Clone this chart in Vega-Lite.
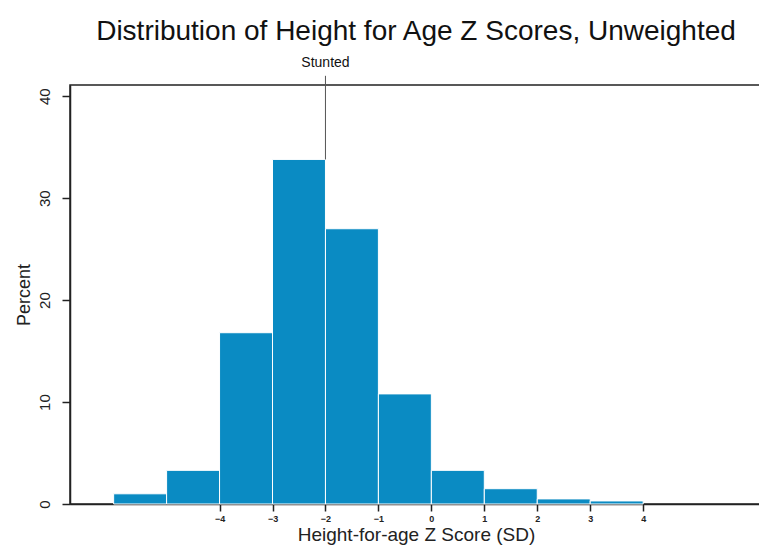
{
  "$schema": "https://vega.github.io/schema/vega-lite/v6.json",
  "width": 692,
  "height": 419,
  "autosize": {"type": "none"},
  "padding": {"left": 70, "top": 85, "right": 0, "bottom": 44},
  "background": "white",
  "config": {
    "font": "Liberation Sans",
    "view": {"stroke": "#222", "strokeWidth": 1.5},
    "axis": {"grid": false, "domainColor": "#222", "domainWidth": 1.5, "tickColor": "#222", "tickWidth": 1.5, "labelColor": "#222", "titleColor": "#222"}
  },
  "title": {
    "text": "Distribution of Height for Age Z Scores, Unweighted",
    "fontSize": 28,
    "fontWeight": "normal",
    "color": "#111",
    "anchor": "middle",
    "frame": "group",
    "offset": 10
  },
  "data": {
    "values": [
      {"bin_start": -6, "bin_end": -5, "percent": 1.0},
      {"bin_start": -5, "bin_end": -4, "percent": 3.3},
      {"bin_start": -4, "bin_end": -3, "percent": 16.8},
      {"bin_start": -3, "bin_end": -2, "percent": 33.8},
      {"bin_start": -2, "bin_end": -1, "percent": 27.0},
      {"bin_start": -1, "bin_end": 0, "percent": 10.8},
      {"bin_start": 0, "bin_end": 1, "percent": 3.3},
      {"bin_start": 1, "bin_end": 2, "percent": 1.5},
      {"bin_start": 2, "bin_end": 3, "percent": 0.5},
      {"bin_start": 3, "bin_end": 4, "percent": 0.3}
    ]
  },
  "layer": [
    {
      "mark": {"type": "bar", "color": "#0a8bc3", "stroke": "white", "strokeWidth": 1, "orient": "vertical"},
      "encoding": {
        "x": {
          "field": "bin_start", "type": "quantitative",
          "scale": {"domain": [-6.73, 6.15], "nice": false, "zero": false},
          "axis": {
            "values": [-4, -3, -2, -1, 0, 1, 2, 3, 4],
            "labelFontSize": 9, "labelFontWeight": "bold", "tickSize": 7, "labelPadding": 3,
            "title": "Height-for-age Z Score (SD)", "titleFontSize": 19, "titleFontWeight": "normal", "titlePadding": 2
          }
        },
        "x2": {"field": "bin_end"},
        "y": {
          "field": "percent", "type": "quantitative",
          "scale": {"domain": [0, 41.1], "nice": false},
          "axis": {
            "values": [0, 10, 20, 30, 40],
            "labelAngle": 270, "labelFontSize": 15, "tickSize": 8, "labelPadding": 10,
            "title": "Percent", "titleFontSize": 18, "titleFontWeight": "normal", "titlePadding": 4
          }
        },
        "y2": {"datum": 0}
      }
    },
    {
      "data": {"values": [{"z": -2, "y1": 33.8, "y2": 42}]},
      "mark": {"type": "rule", "color": "#555", "strokeWidth": 1, "clip": false},
      "encoding": {
        "x": {"field": "z", "type": "quantitative"},
        "y": {"field": "y1", "type": "quantitative"},
        "y2": {"field": "y2"}
      }
    },
    {
      "data": {"values": [{"z": -2, "label": "Stunted", "ly": 43.3}]},
      "mark": {"type": "text", "fontSize": 14, "color": "#111", "baseline": "middle", "clip": false},
      "encoding": {
        "x": {"field": "z", "type": "quantitative"},
        "y": {"field": "ly", "type": "quantitative"},
        "text": {"field": "label"}
      }
    }
  ]
}
